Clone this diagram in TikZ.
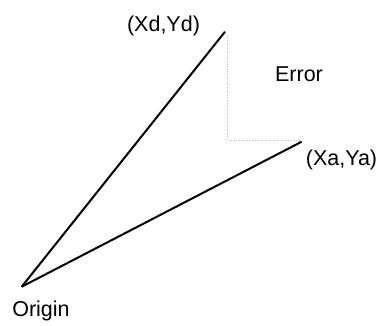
\documentclass[tikz,border=0pt]{standalone}
\usepackage{fontspec}
\setmainfont{Liberation Sans}
\begin{document}
\begin{tikzpicture}[x=1pt,y=-1pt,
  ray/.style={line width=2pt},
  guide/.style={draw=black!25, dotted, line width=0.6pt},
  lbl/.style={anchor=base, inner sep=0pt, font=\fontsize{21.5}{25}\selectfont}]
\useasboundingbox (0,0) rectangle (385,325);
\coordinate (O) at (21.7,286.7);
\coordinate (D) at (225,31.7);
\coordinate (A) at (301.7,141.7);
\coordinate (C) at (227,140);
\draw[guide] (227,35) coordinate (Dt) -- (C) -- (300,140) coordinate (At);
\draw[ray] (O) -- (D);
\draw[ray] (O) -- (A);
\node[lbl] (ld) at (163.5,31.7) {(Xd,Yd)};
\node[lbl] (le) at (299,81.7) {Error};
\node[lbl] (la) at (341.5,165) {(Xa,Ya)};
\node[lbl] (lo) at (41,316.7) {Origin};
\end{tikzpicture}
\end{document}
